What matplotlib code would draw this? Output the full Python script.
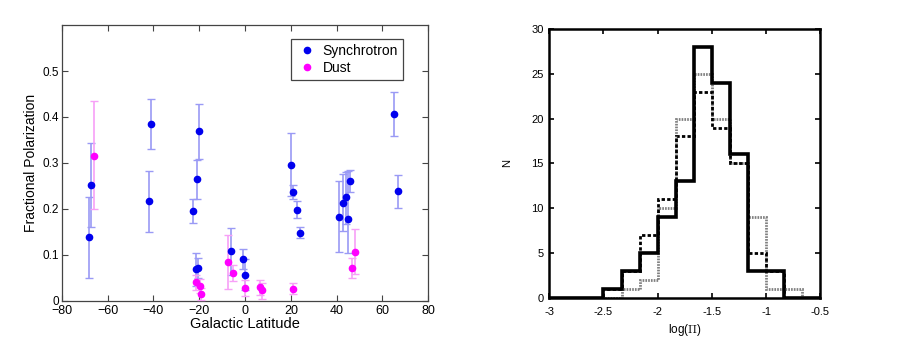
import matplotlib
matplotlib.use("Agg")
import matplotlib.pyplot as plt
from matplotlib.lines import Line2D

plt.rcParams['font.family'] = ['Liberation Sans', 'DejaVu Sans']
plt.rcParams['mathtext.fontset'] = 'cm'

# ---- left panel: fractional polarization vs galactic latitude ----
sync_lat = [-68.2, -67.2, -42.0, -41.2, -22.5, -21.1, -20.1, -21.2, -20.5, -6.1,
            -1.0, -0.15, 20.1, 21.1, 22.5, 24.0, 40.9, 42.9, 43.9, 44.9, 45.8, 64.9, 66.9]
sync_pol = [0.138, 0.252, 0.216, 0.385, 0.196, 0.264, 0.369, 0.068, 0.071, 0.108,
            0.091, 0.057, 0.296, 0.237, 0.198, 0.148, 0.183, 0.213, 0.225, 0.178, 0.261, 0.406, 0.238]
sync_hi = [0.225, 0.343, 0.282, 0.440, 0.222, 0.306, 0.429, 0.103, 0.094, 0.159,
           0.113, 0.090, 0.364, 0.251, 0.216, 0.160, 0.260, 0.276, 0.280, 0.283, 0.285, 0.454, 0.274]
sync_lo = [0.050, 0.161, 0.150, 0.330, 0.170, 0.222, 0.308, 0.032, 0.049, 0.057,
           0.068, 0.023, 0.228, 0.222, 0.179, 0.136, 0.107, 0.151, 0.168, 0.103, 0.237, 0.359, 0.201]

dust_lat = [-66.0, -21.4, -19.6, -19.1, -7.3, -5.1, 0.0, 6.5, 7.3, 21.1, 46.8, 47.9]
dust_pol = [0.316, 0.040, 0.033, 0.015, 0.084, 0.060, 0.027, 0.029, 0.023, 0.026, 0.072, 0.106]
dust_hi = [0.435, 0.056, 0.048, 0.027, 0.142, 0.077, 0.044, 0.046, 0.039, 0.039, 0.094, 0.155]
dust_lo = [0.200, 0.023, 0.017, 0.001, 0.025, 0.042, 0.010, 0.012, 0.003, 0.014, 0.049, 0.058]

# ---- right panel: histograms of log(Pi) ----
bin_edges = [-3.0, -2.8333, -2.6667, -2.5, -2.3333, -2.1667, -2.0, -1.8333,
             -1.6667, -1.5, -1.3333, -1.1667, -1.0, -0.8333, -0.6667, -0.5]
n_solid = [0, 0, 0, 1, 3, 5, 9, 13, 28, 24, 16, 3, 3, 0, 0]
n_dashed = [0, 0, 0, 1, 3, 7, 11, 18, 23, 19, 15, 5, 3, 0, 0]
n_dotted = [0, 0, 0, 0, 1, 2, 10, 20, 25, 20, 15, 9, 1, 1, 0]

fig = plt.figure(figsize=(9, 3.39), dpi=100)

ax1 = fig.add_axes([0.0686, 0.113, 0.4073, 0.813])


def err_plot(ax, x, y, lo, hi, col, barcol, capcol):
    yerr = [[v - l for v, l in zip(y, lo)], [h - v for v, h in zip(y, hi)]]
    line, caps, bars = ax.errorbar(x, y, yerr=yerr, fmt='o', color=col, ms=4.5,
                                   ecolor=barcol, elinewidth=1.2, capsize=3,
                                   capthick=1.0, zorder=3)
    for c in caps:
        c.set_color(capcol)


err_plot(ax1, sync_lat, sync_pol, sync_lo, sync_hi, '#0000ee', '#9a9af5', '#5050e8')
err_plot(ax1, dust_lat, dust_pol, dust_lo, dust_hi, '#ff00ff', '#f7a0f7', '#f050f0')

ax1.set_xlim(-80, 80)
ax1.set_ylim(0, 0.6)
ax1.set_xticks(range(-80, 81, 20))
ax1.set_yticks([0, 0.1, 0.2, 0.3, 0.4, 0.5])
ax1.set_yticklabels(['0', '0.1', '0.2', '0.3', '0.4', '0.5'])
ax1.tick_params(direction='in', length=4, width=0.8, top=True, right=True,
                labelsize=8.5, color='#444444', pad=2)
ax1.tick_params(axis='x', labelsize=9, pad=3)
for sp in ax1.spines.values():
    sp.set_color('#444444')
    sp.set_linewidth(0.9)
ax1.set_xlabel('Galactic Latitude', fontsize=10.5, labelpad=0)
ax1.set_ylabel('Fractional Polarization', fontsize=10, labelpad=3)
handles = [Line2D([], [], ls='none', marker='o', ms=4.5, color='#0000ee'),
           Line2D([], [], ls='none', marker='o', ms=4.5, color='#ff00ff')]
leg = ax1.legend(handles, ['Synchrotron', 'Dust'], loc='upper right',
                 bbox_to_anchor=(0.93, 0.95), borderaxespad=0, numpoints=1,
                 fontsize=10, fancybox=False, framealpha=1, edgecolor='#444444',
                 handletextpad=0.3, borderpad=0.35, labelspacing=0.25,
                 handlelength=1.6)
leg.get_frame().set_linewidth(0.9)

ax2 = fig.add_axes([0.6103, 0.1218, 0.3011, 0.7926])
ax2.stairs(n_dotted, bin_edges, color='#808080', lw=2.0, linestyle=(0, (0.6, 0.4)), zorder=2)
ax2.stairs(n_dashed, bin_edges, color='black', lw=2.0, linestyle=(0, (1.2, 0.8)), zorder=3)
ax2.stairs(n_solid, bin_edges, color='black', lw=2.6, zorder=4)
ax2.set_xlim(-3, -0.5)
ax2.set_ylim(0, 30)
ax2.set_xticks([-3, -2.5, -2, -1.5, -1, -0.5])
ax2.set_xticklabels(['-3', '-2.5', '-2', '-1.5', '-1', '-0.5'])
ax2.set_yticks(range(0, 31, 5))
ax2.tick_params(direction='in', length=3.5, width=1.2, top=True, right=True,
                labelsize=8, pad=4)
ax2.tick_params(axis='x', pad=7)
for sp in ax2.spines.values():
    sp.set_linewidth(1.8)
ax2.set_xlabel(r'log($\Pi$)', fontsize=8.5, labelpad=3)
ax2.set_ylabel('N', fontsize=8, labelpad=14)

fig.savefig('out.png', dpi=100)
